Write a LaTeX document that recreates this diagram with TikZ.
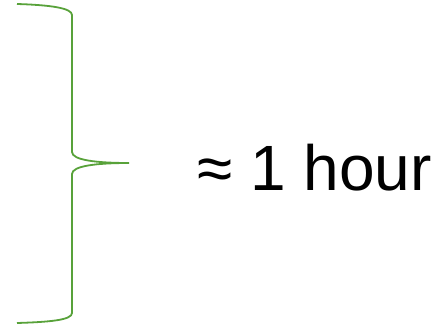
\documentclass[tikz,border=0pt]{standalone}
\usepackage{fontspec}
\setmainfont{Liberation Sans}
\definecolor{bracegreen}{RGB}{88,162,58}
\begin{document}
\begin{tikzpicture}[x=1pt,y=-1pt]
    \useasboundingbox (0,0) rectangle (441,326);
    % geschweifte Klammer
    \coordinate (tip) at (129,163);
    \draw[bracegreen, line width=1.8pt]
        (17,4) .. controls (50,5) and (72,8) .. (72,15) -- (72,152)
        .. controls (72,160) and (96,163) .. (tip)
        .. controls (96,163) and (72,166) .. (72,174) -- (72,313)
        .. controls (72,320) and (50,322) .. (17,323);
    % Beschriftung
    \node[anchor=base west, inner sep=0pt, font=\fontsize{64}{70}\selectfont] (dauer) at (197,190) {≈ 1 hour};
\end{tikzpicture}
\end{document}
